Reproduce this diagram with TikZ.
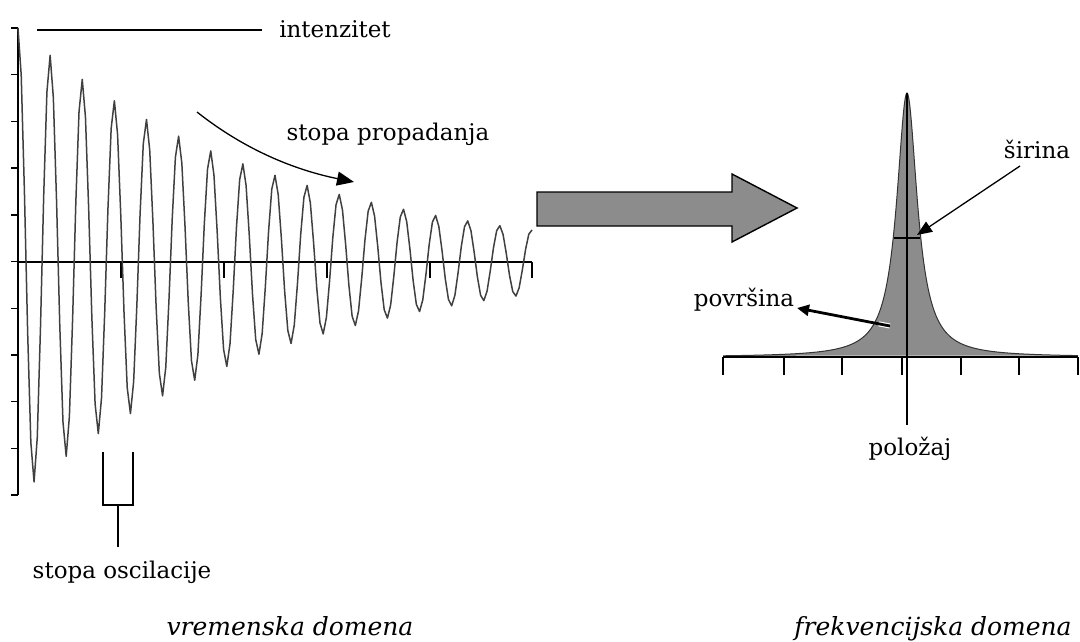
\documentclass[tikz,border=0pt]{standalone}
\usepackage{fontspec}
\setmainfont{DejaVu Serif}
\usetikzlibrary{arrows.meta,calc}
\definecolor{fillgray}{gray}{0.55}
\definecolor{wavegray}{gray}{0.25}
\begin{document}
\begin{tikzpicture}[x=1pt,y=-1pt,
  ax/.style={line width=1.4pt,black},
  tk/.style={line width=1.4pt,black},
  lbl/.style={font=\fontsize{23}{27}\selectfont,inner sep=0pt,anchor=base},
  ilbl/.style={font=\fontsize{25}{29}\selectfont\itshape,inner sep=0pt,anchor=base},
  wave/.style={line width=1.5pt,wavegray,line join=round},
  tip/.style={-{Triangle[length=17pt,width=14pt]}},
]
\useasboundingbox (0,0) rectangle (1080,642);

% ---------- time domain ----------
\coordinate (ytop) at (18,28);
\coordinate (ybot) at (18,495);
\coordinate (xl) at (18,262);
\coordinate (xr) at (532,262);
\draw[ax] (ytop) -- (ybot);
\foreach \i in {0,...,10} \draw[tk] (11,{28+\i*46.7}) -- (18,{28+\i*46.7});
\draw[ax] (xl) -- (xr);
\foreach \xx in {121,224,327,430,532} \draw[tk] (\xx,262) -- (\xx,278);

\draw[wave] plot[domain=18:532,samples=161]
  (\x,{262-234*exp(-(\x-18)/259)*cos(deg(2*pi*(\x-18)/32.1))});

% intensity
\coordinate (intA) at (37,30);
\coordinate (intB) at (262,30);
\draw[line width=1.4pt] (intA) -- (intB);
\node[lbl] (intenz) at (335,38) {intenzitet};

% decay rate
\node[lbl] (decay) at (388,140) {stopa propadanja};
\coordinate (dA) at (197,112);
\coordinate (dB) at (354,182);
\draw[line width=1.3pt,tip] (dA) .. controls (245,150) and (295,170) .. (dB);

% oscillation rate bracket
\coordinate (bL) at (103,452);
\coordinate (bR) at (133,452);
\coordinate (bM) at (118,505);
\coordinate (bS) at (118,547);
\draw[ax] (bL) -- (103,505) -- (133,505) -- (bR);
\draw[ax] (bM) -- (bS);
\node[lbl] (osc) at (122,578) {stopa oscilacije};

% ---------- big arrow ----------
\draw[line width=1.4pt,fill=fillgray,line join=miter]
  (537,192) -- (732,192) -- (732,174) -- (797,208) -- (732,242) -- (732,226) -- (537,226) -- cycle;

% ---------- frequency domain ----------
\fill[fillgray] plot[domain=723:907,samples=200] (\x,{357-264/(1+((\x-907)/12.5)^2)})
  -- plot[domain=907:1078,samples=200] (\x,{357-264/(1+((\x-907)/12.5)^2)}) -- cycle;
\draw[line width=1pt,black!80] plot[domain=723:907,samples=200] (\x,{357-264/(1+((\x-907)/12.5)^2)})
  -- plot[domain=907:1078,samples=200] (\x,{357-264/(1+((\x-907)/12.5)^2)});
\coordinate (fl) at (723,357);
\coordinate (fr) at (1078,357);
\draw[ax] (fl) -- (fr);
\foreach \xx in {723,784,842,902,961,1019,1078} \draw[tk] (\xx,357) -- (\xx,375);
\coordinate (ctop) at (907,93);
\coordinate (cbot) at (907,425);
\draw[line width=1.3pt] (ctop) -- (cbot);
\coordinate (wL) at (894,238);
\coordinate (wR) at (920,238);
\draw[line width=1.3pt] (wL) -- (wR);

\node[lbl] (sirina) at (1037,158) {širina};
\coordinate (sA) at (1020,166);
\coordinate (sB) at (917,235);
\draw[line width=1.3pt,-{Triangle[length=15pt,width=12pt]}] (sA) -- (sB);

\node[lbl] (povr) at (744,306) {površina};
\coordinate (pA) at (890,326);
\coordinate (pB) at (797,308);
\draw[white,line width=5pt] (pA) -- ($(pA)!0.12!(pB)$);
\draw[line width=2.8pt,-{Triangle[length=12pt,width=11pt]}] (pA) -- (pB);

\node[lbl] (polozaj) at (910,455) {položaj};

% ---------- bottom captions ----------
\node[ilbl] (vrem) at (290,635) {vremenska domena};
\node[ilbl] (frek) at (933,635) {frekvencijska domena};
\end{tikzpicture}
\end{document}
